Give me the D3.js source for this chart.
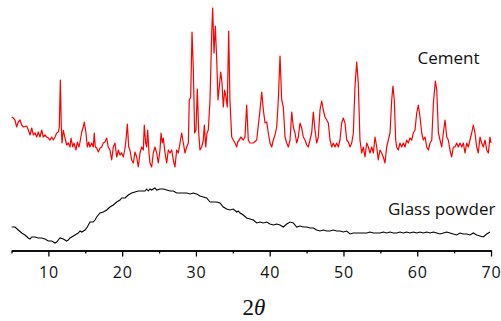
<!DOCTYPE html>
<html>
<head>
<meta charset="utf-8">
<script src="https://cdn.jsdelivr.net/npm/d3@7"></script>
<style>
  body { margin: 0; background: #fff; }
  .tick text { font-family: "Open Sans", sans-serif; }
</style>
</head>
<body>
<div id="plot"></div>
<script>
// XRD patterns (2θ in degrees, intensity in a.u., cement trace already offset)
const cementTheta = [
  5.03,5.24,5.47,5.70,5.92,6.15,6.38,6.60,7.06,7.28,
  7.51,7.74,7.96,8.19,8.42,8.63,8.86,9.09,9.31,9.54,
  9.77,9.99,10.22,10.45,10.67,10.90,11.13,11.34,11.48,11.62,
  11.75,11.85,12.02,12.25,12.48,12.70,12.93,13.07,13.30,13.47,
  13.74,13.92,14.15,14.29,14.52,14.73,14.87,15.10,15.28,15.47,
  15.64,15.87,16.09,16.22,16.36,16.55,16.77,17.00,17.23,17.44,
  17.67,17.91,18.12,18.35,18.58,18.80,19.03,19.26,19.48,19.71,
  19.94,20.16,20.39,20.52,20.70,20.89,21.06,21.29,21.51,21.74,
  21.97,22.19,22.42,22.65,22.87,23.00,23.19,23.33,23.46,23.64,
  23.77,24.00,24.22,24.45,24.68,24.90,25.13,25.27,25.44,25.58,
  25.81,26.04,26.26,26.49,26.72,26.93,27.16,27.39,27.61,27.84,
  28.07,28.29,28.52,28.75,28.97,29.10,29.29,29.47,29.64,29.83,
  30.01,30.19,30.38,30.55,30.78,31.00,31.14,31.33,31.50,31.68,
  31.91,32.14,32.27,32.45,32.63,32.82,32.99,33.17,33.36,33.54,
  33.71,33.90,34.07,34.25,34.44,34.61,34.85,35.07,35.30,35.53,
  35.66,35.88,36.07,36.42,36.65,36.88,37.10,37.33,37.78,38.24,
  38.46,38.69,38.92,39.14,39.37,39.60,39.81,40.04,40.27,40.49,
  40.72,40.95,41.17,41.40,41.63,41.85,42.08,42.31,42.53,42.76,
  42.99,43.20,43.43,43.66,43.88,44.11,44.34,44.56,44.79,45.02,
  45.23,45.46,45.69,45.91,46.14,46.37,46.59,46.82,47.05,47.27,
  47.50,47.73,47.95,48.18,48.41,48.62,48.85,49.08,49.30,49.53,
  49.76,49.98,50.21,50.44,50.66,50.89,51.12,51.34,51.56,51.79,
  52.01,52.24,52.47,52.69,52.92,53.15,53.37,53.60,53.83,54.05,
  54.28,54.51,54.72,54.95,55.18,55.40,55.63,55.86,56.08,56.31,
  56.54,56.71,56.89,57.08,57.21,57.43,57.66,57.89,58.11,58.34,
  58.57,58.79,59.02,59.25,59.47,59.70,59.93,60.15,60.38,60.61,
  60.83,61.06,61.29,61.51,61.74,61.97,62.19,62.46,62.65,62.87,
  63.09,63.32,63.54,63.77,64.00,64.21,64.44,64.67,64.89,65.12,
  65.35,65.57,65.80,66.03,66.25,66.48,66.71,66.92,67.15,67.38,
  67.60,67.83,68.06,68.28,68.51,68.74,68.96,69.19,69.42,69.64,
  69.86,70.00
];
const cementCounts = [
  133,132,130,123,128,130,125,123,124,120,
  115,122,115,117,113,118,113,120,113,115,
  113,112,110,113,110,113,117,118,123,170,
  123,107,120,112,105,107,103,112,103,107,
  100,108,103,108,118,123,128,117,103,108,
  103,107,103,117,103,102,98,102,103,107,
  108,112,103,100,90,103,107,93,100,95,
  97,93,102,110,126,103,100,90,87,98,
  93,83,97,103,100,125,107,103,120,97,
  87,83,97,103,97,87,100,117,107,112,
  97,87,100,97,100,90,83,100,97,107,
  117,107,97,103,107,150,153,218,183,117,
  120,161,117,100,103,110,125,103,117,120,
  150,217,242,197,224,190,150,163,178,167,
  143,160,153,143,219,150,113,110,107,103,
  108,110,113,110,113,145,110,107,107,110,
  125,140,158,140,127,128,117,107,103,110,
  115,123,150,194,150,143,113,107,103,110,
  138,123,117,107,113,127,122,113,110,105,
  103,110,117,138,120,107,113,140,149,140,
  133,130,127,110,103,107,103,107,103,110,
  127,132,127,110,108,103,107,117,163,188,
  167,110,97,103,93,107,103,97,103,97,
  113,103,90,100,97,93,87,103,110,117,
  150,164,150,110,103,100,107,103,107,103,
  110,107,112,110,117,120,137,145,133,117,
  110,113,103,100,107,110,147,169,160,117,
  110,103,117,130,113,110,100,93,103,103,
  107,103,107,103,107,97,107,103,110,117,
  125,117,103,97,113,107,103,110,100,97,
  113,107
];

const glassTheta = [
  5.03,5.47,5.92,6.38,6.83,7.28,7.51,7.74,8.19,8.63,
  9.09,9.54,9.99,10.45,10.90,11.13,11.34,11.57,12.02,12.48,
  12.70,12.93,13.16,13.61,14.06,14.29,14.52,14.97,15.28,15.64,
  16.09,16.32,16.55,17.00,17.44,17.91,18.35,18.80,19.26,19.71,
  19.94,20.39,20.83,21.29,21.74,22.19,22.65,23.10,23.33,23.55,
  23.77,24.00,24.22,24.45,24.68,25.13,25.58,26.04,26.49,26.93,
  27.39,27.84,28.29,28.75,29.20,29.64,30.11,30.55,31.00,31.46,
  31.91,32.36,32.82,33.26,33.71,34.17,34.62,35.07,35.53,35.75,
  35.98,36.42,36.88,37.33,37.78,38.24,38.69,39.14,39.60,40.04,
  40.49,40.95,41.40,41.85,42.31,42.76,43.20,43.66,44.11,44.56,
  45.02,45.46,45.91,46.37,46.82,47.27,47.73,48.18,48.62,49.08,
  49.53,49.98,50.44,50.89,51.34,51.79,52.24,52.69,53.15,53.60,
  54.05,54.51,54.95,55.40,55.86,56.31,56.76,57.22,57.66,58.11,
  58.57,59.02,59.47,59.93,60.38,60.83,61.29,61.74,62.19,62.65,
  63.09,63.54,64.00,64.44,64.89,65.35,65.80,66.25,66.71,67.15,
  67.60,68.06,68.51,68.96,69.42,69.86
];
const glassCounts = [
  23,23,20,17,15,12,11,13,13,12,
  12,11,9,9,7,8,10,12,11,9,
  10,12,13,15,17,19,18,20,23,28,
  28,30,33,37,38,40,43,45,48,50,
  52,52,55,57,58,59,59,59,61,59,
  61,60,61,62,60,61,61,60,59,59,
  57,57,57,57,56,57,56,54,53,52,
  48,48,48,47,43,41,40,41,38,39,
  37,35,32,31,30,27,28,27,28,26,
  25,26,25,23,26,28,27,23,24,23,
  23,22,22,20,19,20,19,19,20,19,
  19,18,19,16,17,17,17,17,17,18,
  17,17,17,18,17,18,17,17,18,17,
  18,17,18,17,18,17,18,17,18,17,
  16,17,18,17,16,15,17,16,16,15,
  17,15,14,13,16,18
];

const majorTicks = [10, 20, 30, 40, 50, 60, 70];
const minorTicks = [5, 15, 25, 35, 45, 55, 65];
const seriesLabels = ["Cement", "Glass powder"];

const W = 501, H = 321;
const margin = {top: 0, right: 10, bottom: 71, left: 11.5};
const width = W - margin.left - margin.right;
const height = H - margin.top - margin.bottom;

const svg = d3.select("#plot")
    .append("svg")
    .attr("width", W)
    .attr("height", H);

const plot = svg.append("g")
    .attr("transform", "translate(" + margin.left + "," + margin.top + ")");

const x = d3.scaleLinear().domain([5, 70]).range([0, width]);
const y = d3.scaleLinear().domain([0, 250]).range([height, 0]);

// minor ticks, no labels
plot.append("g")
    .attr("transform", "translate(0," + (height + 0.5) + ")")
    .call(d3.axisBottom(x).tickValues(minorTicks).tickSize(3).tickSizeOuter(0).tickFormat(""))
    .call(g => g.selectAll("line,path").attr("stroke", "#000").attr("stroke-width", 1.3));

// major ticks with labels
plot.append("g")
    .attr("transform", "translate(0," + (height + 0.5) + ")")
    .call(d3.axisBottom(x).tickValues(majorTicks).tickSize(6).tickSizeOuter(0).tickPadding(10))
    .call(g => g.selectAll("line,path").attr("stroke", "#000").attr("stroke-width", 1.3))
    .call(g => g.selectAll("text")
        .attr("fill", "#111")
        .style("font-size", "16px")
        .style("letter-spacing", "0.8px"));

const line = d3.line()
    .x(d => x(d[0]))
    .y(d => y(d[1]));

plot.append("path")
    .datum(d3.zip(glassTheta, glassCounts))
    .attr("fill", "none")
    .attr("stroke", "#000")
    .attr("stroke-width", 1.1)
    .attr("d", line);

plot.append("path")
    .datum(d3.zip(cementTheta, cementCounts))
    .attr("fill", "none")
    .attr("stroke", "#ff0000")
    .attr("stroke-width", 1.2)
    .attr("stroke-linejoin", "round")
    .attr("d", line);

// series labels
svg.append("text")
    .attr("x", 417.5).attr("y", 64)
    .style("font-family", "'Open Sans', sans-serif")
    .style("font-size", "17px")
    .attr("fill", "#111")
    .text(seriesLabels[0]);

svg.append("text")
    .attr("x", 388).attr("y", 215)
    .style("font-family", "'Open Sans', sans-serif")
    .style("font-size", "17px")
    .attr("fill", "#111")
    .text(seriesLabels[1]);

// axis title 2θ
const title = svg.append("text")
    .attr("x", 254).attr("y", 315)
    .attr("text-anchor", "middle")
    .style("font-family", "'Liberation Serif', 'Times New Roman', serif")
    .style("font-size", "23px")
    .attr("fill", "#111");
title.append("tspan").text("2");
title.append("tspan").style("font-style", "italic").text("θ");
</script>
</body>
</html>
